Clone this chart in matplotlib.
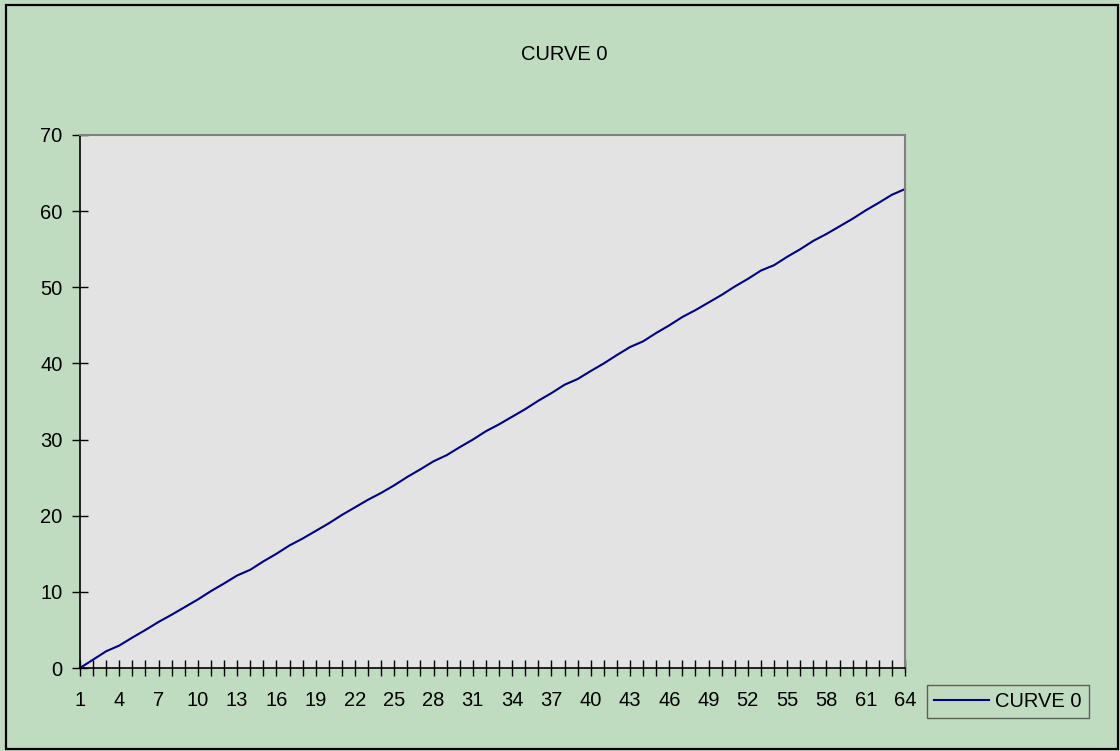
import matplotlib
matplotlib.use("Agg")
import matplotlib.pyplot as plt
from matplotlib.patches import Rectangle

plt.rcParams['font.family'] = ['Liberation Sans', 'DejaVu Sans']

series_name = "CURVE 0"
categories = list(range(1, 65))
values = [
    0.0, 1.1, 2.2, 2.95, 4.0, 5.0, 6.05, 7.0, 8.0, 9.0,
    10.1, 11.1, 12.15, 12.9, 14.0, 15.0, 16.1, 17.0, 18.0, 19.0,
    20.1, 21.1, 22.1, 23.0, 24.0, 25.1, 26.1, 27.15, 27.95, 29.0,
    30.0, 31.1, 32.0, 33.0, 34.0, 35.1, 36.1, 37.2, 37.95, 39.0,
    40.0, 41.1, 42.15, 42.9, 44.0, 45.0, 46.1, 47.0, 48.0, 49.0,
    50.1, 51.1, 52.2, 52.9, 54.0, 55.0, 56.1, 57.0, 58.0, 59.0,
    60.1, 61.1, 62.15, 62.9,
]
y_ticks = [0, 10, 20, 30, 40, 50, 60, 70]

W, H = 1120, 751
FS = 14.5
fig = plt.figure(figsize=(W / 100, H / 100), dpi=100)
fig.patch.set_facecolor('#C0DCC0')

# outer chart-area border
fig.patches.append(Rectangle((6 / W, 1 - 749 / H), 1112 / W, 744 / H,
                             transform=fig.transFigure, fill=False,
                             edgecolor='black', linewidth=1.6, zorder=10))

left, right, top, bottom = 80, 905, 135, 668
ax = fig.add_axes([left / W, 1 - bottom / H, (right - left) / W, (bottom - top) / H])
ax.set_facecolor('#E3E3E3')

x = list(range(len(categories)))
ax.plot(x, values, color='#000080', linewidth=1.5, label=series_name,
        solid_joinstyle='round', clip_on=False)

ax.set_xlim(0, len(categories) - 1)
ax.set_ylim(0, 70)
ax.set_yticks(y_ticks)
ax.set_yticklabels([str(v) for v in y_ticks])
ax.set_xticks(x)
ax.set_xticklabels([str(c) if i % 3 == 0 else '' for i, c in enumerate(categories)])

ax.tick_params(axis='both', direction='inout', length=11, width=1.0,
               color='black', labelsize=FS, labelcolor='black')
ax.tick_params(axis='x', pad=11)
ax.tick_params(axis='y', pad=7)

for side in ('top', 'right'):
    ax.spines[side].set_color('#808080')
    ax.spines[side].set_linewidth(1.5)
for side in ('left', 'bottom'):
    ax.spines[side].set_color('black')
    ax.spines[side].set_linewidth(1.2)

fig.text(564 / W, 1 - 55 / H, series_name, ha='center', va='center',
         fontsize=FS, color='black')

leg = fig.legend(loc='center', bbox_to_anchor=(1008 / W, 1 - 701.5 / H),
                 frameon=True, fontsize=FS, handlelength=2.75,
                 handletextpad=0.3, borderpad=0.35, borderaxespad=0,
                 fancybox=False)
leg.get_frame().set_facecolor('none')
leg.get_frame().set_edgecolor('#404040')
leg.get_frame().set_linewidth(1.0)

fig.savefig('out.png', dpi=100, facecolor=fig.get_facecolor())
